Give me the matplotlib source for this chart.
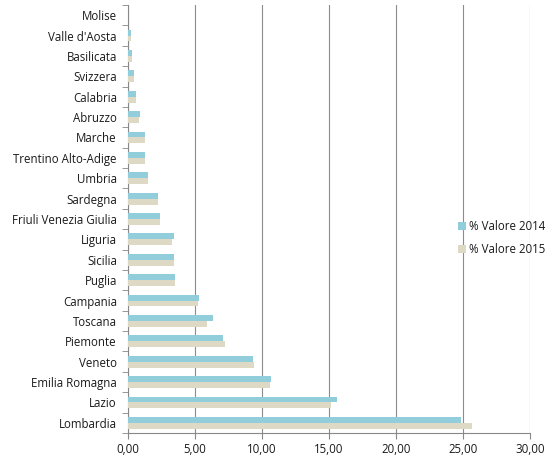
import matplotlib
matplotlib.use('Agg')
import matplotlib.pyplot as plt
import numpy as np
from matplotlib.ticker import FuncFormatter, FixedLocator

regions = ['Lombardia', 'Lazio', 'Emilia Romagna', 'Veneto', 'Piemonte', 'Toscana',
           'Campania', 'Puglia', 'Sicilia', 'Liguria', 'Friuli Venezia Giulia',
           'Sardegna', 'Umbria', 'Trentino Alto-Adige', 'Marche', 'Abruzzo',
           'Calabria', 'Svizzera', 'Basilicata', "Valle d'Aosta", 'Molise']
val_2014 = [24.85, 15.6, 10.67, 9.33, 7.09, 6.34, 5.3, 3.5, 3.46, 3.43, 2.39,
            2.24, 1.47, 1.27, 1.27, 0.87, 0.6, 0.45, 0.3, 0.22, 0.0]
val_2015 = [25.7, 15.15, 10.6, 9.4, 7.24, 5.9, 5.22, 3.5, 3.43, 3.31, 2.39,
            2.22, 1.47, 1.27, 1.27, 0.85, 0.6, 0.45, 0.3, 0.22, 0.0]
labels = ['% Valore 2014', '% Valore 2015']

plt.rcParams['font.family'] = ['Open Sans', 'DejaVu Sans']

fig = plt.figure(figsize=(5.5, 4.73), dpi=100)
ax = fig.add_axes([0.2327, 0.0846, 0.7309, 0.9048])

y = np.arange(len(regions))
h = 0.29
ax.barh(y + h / 2, val_2014, height=h, color='#92CDDC', label=labels[0], zorder=3)
ax.barh(y - h / 2, val_2015, height=h, color='#DDD9C4', label=labels[1], zorder=3)

ax.set_xlim(0, 30)
ax.set_ylim(-0.5, len(regions) - 0.5)
ax.set_xticks(np.arange(0, 31, 5))
ax.xaxis.set_major_formatter(FuncFormatter(lambda v, p: f'{v:.2f}'.replace('.', ',')))
ax.set_yticks(y)
ax.set_yticklabels(regions)
ax.yaxis.set_minor_locator(FixedLocator(np.arange(-0.5, len(regions), 1)))
ax.tick_params(axis='y', which='major', length=0, labelsize=8.3, pad=8, labelcolor='#1a1a1a')
ax.tick_params(axis='y', which='minor', length=4, color='#888888')
ax.tick_params(axis='x', length=4, color='#888888', labelsize=8.3, labelcolor='#1a1a1a')

ax.grid(axis='x', color='#8c8c8c', linewidth=0.8, zorder=0)
for s in ['top', 'right']:
    ax.spines[s].set_visible(False)
for s in ['left', 'bottom']:
    ax.spines[s].set_color('#888888')
    ax.spines[s].set_linewidth(0.8)

ax.legend(loc='center left', bbox_to_anchor=(0.795, 0.455), frameon=False,
          handlelength=0.7, handleheight=0.7, handletextpad=0.3,
          labelspacing=0.9, fontsize=8.3, labelcolor='#1a1a1a')

fig.savefig('out.png', dpi=100)
